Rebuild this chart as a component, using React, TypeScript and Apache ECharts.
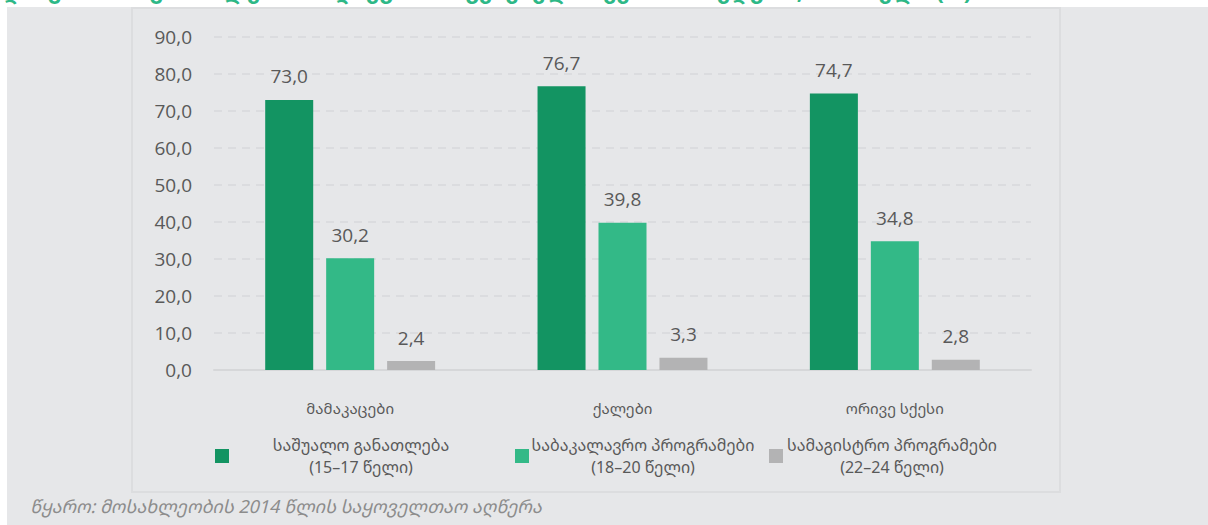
import React, { useEffect, useRef } from "react";
import * as echarts from "echarts";

const categories = ["მამაკაცები", "ქალები", "ორივე სქესი"];
const seriesNames = [
  "საშუალო განათლება\n(15–17 წელი)",
  "საბაკალავრო პროგრამები\n(18–20 წელი)",
  "სამაგისტრო პროგრამები\n(22–24 წელი)",
];
const secondaryValues = [73.0, 76.7, 74.7];
const bachelorValues = [30.2, 39.8, 34.8];
const masterValues = [2.4, 3.3, 2.8];
const colors = ["#139462", "#33b987", "#b3b3b4"];
const yTicks = { min: 0, max: 90, interval: 10 };
const titleText = "დიაგრამა 9: განათლების მიღწევის მაჩვენებელი სქესის მიხედვით, 2014 წელი (%)";
const sourceText = "წყარო: მოსახლეობის 2014 წლის საყოველთაო აღწერა";

const GEO = "'Noto Sans Georgian', 'DejaVu Sans', sans-serif";
const NUM = "'Open Sans', 'DejaVu Sans', sans-serif";
const fmt = (v: number) => v.toFixed(1).replace(".", ",");

export default function App() {
  const ref = useRef<HTMLDivElement>(null);
  useEffect(() => {
    document.body.style.margin = "0";
    const chart = echarts.init(ref.current!, null, { renderer: "svg" });
    const values = [secondaryValues, bachelorValues, masterValues];
    const legendPos = [
      { left: 210, width: 254 },
      { left: 510, width: 218 },
      { left: 764, width: 208 },
    ];
    chart.setOption({
      animation: false,
      backgroundColor: "#ffffff",
      graphic: [
        {
          type: "text",
          left: 2,
          top: -21,
          z: -5,
          style: {
            text: titleText,
            fill: "#2db887",
            font: `bold 22px ${GEO}`,
          },
        },
        {
          type: "rect",
          shape: { x: 7, y: 7, width: 1201, height: 518 },
          style: { fill: "#e6e7e9" },
          z: -10,
        },
        {
          type: "rect",
          shape: { x: 132, y: 8, width: 928, height: 484 },
          style: { fill: "#e6e7e9", stroke: "#dcdddf", lineWidth: 2 },
          z: -9,
        },
        {
          type: "text",
          x: 30,
          y: 506,
          style: {
            text: sourceText,
            fill: "#8c8c8c",
            font: `italic 18px ${GEO}`,
            textVerticalAlign: "middle",
          },
        },
      ],
      grid: { left: 214, right: 177, top: 37, bottom: 155, containLabel: false },
      legend: seriesNames.map((name, i) => ({
        data: [name],
        left: legendPos[i].left,
        top: 432,
        icon: "rect",
        itemWidth: 14,
        itemHeight: 14,
        itemGap: 0,
        selectedMode: false,
        formatter: (n: string) =>
          n
            .split("\n")
            .map((l) => `{a|${l}}`)
            .join("\n"),
        textStyle: {
          rich: {
            a: {
              width: legendPos[i].width,
              align: "center",
              fontSize: 16,
              lineHeight: 22,
              color: "#595959",
              fontFamily: GEO,
            },
          },
        },
      })),
      xAxis: {
        type: "category",
        data: categories,
        axisLine: { lineStyle: { color: "#d6d7d9", width: 2 } },
        axisTick: { show: false },
        axisLabel: {
          margin: 30,
          fontSize: 15,
          color: "#595959",
          fontFamily: GEO,
        },
      },
      yAxis: {
        type: "value",
        min: yTicks.min,
        max: yTicks.max,
        interval: yTicks.interval,
        axisLine: { show: false },
        axisTick: { show: false },
        axisLabel: {
          margin: 22,
          fontSize: 19,
          color: "#595959",
          fontFamily: NUM,
          formatter: (v: number) => fmt(v),
        },
        splitLine: {
          lineStyle: { color: "#d8d9db", width: 1.5, type: [8, 6] },
        },
      },
      series: seriesNames.map((name, i) => ({
        name,
        type: "bar",
        data: values[i],
        barWidth: 48,
        barGap: "27%",
        itemStyle: { color: colors[i] },
        label: {
          show: true,
          position: "top",
          distance: 14,
          fontSize: 19,
          color: "#595959",
          fontFamily: NUM,
          formatter: (p: any) => fmt(p.value),
        },
      })),
    });
    return () => chart.dispose();
  }, []);
  return <div ref={ref} style={{ width: 1208, height: 525 }} />;
}
